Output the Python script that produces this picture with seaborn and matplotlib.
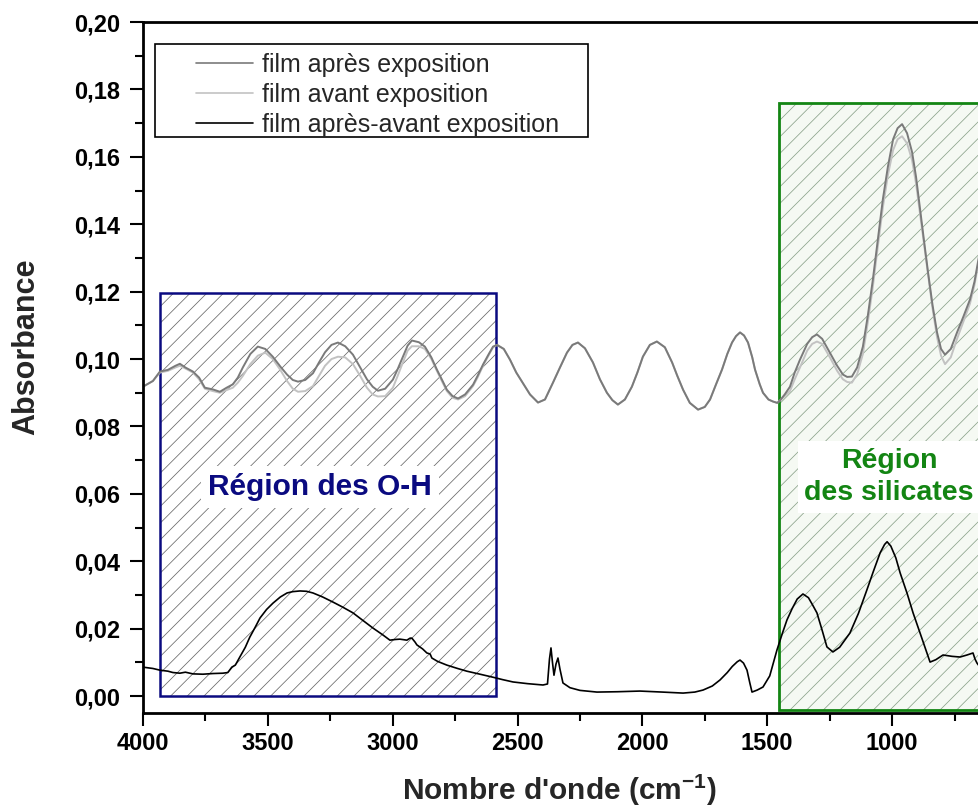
import numpy as np
import pandas as pd
import seaborn as sns
import matplotlib.pyplot as plt
from matplotlib.patches import Rectangle
from matplotlib.ticker import MultipleLocator, FuncFormatter

# Spectres IR
wn_film = [4000, 3960, 3932, 3900, 3870, 3852, 3830, 3800, 3775, 3752, 3720, 3692, 3665, 3640,
           3620, 3600, 3570, 3540, 3510, 3480, 3450, 3423, 3400, 3379, 3350, 3319, 3295, 3271,
           3245, 3219, 3190, 3159, 3130, 3103, 3080, 3059, 3030, 2999, 2980, 2959, 2940, 2923,
           2895, 2871, 2845, 2823, 2800, 2783, 2760, 2738, 2710, 2678, 2660, 2638, 2615, 2598,
           2582, 2555, 2530, 2505, 2478, 2450, 2418, 2390, 2358, 2330, 2302, 2280, 2258, 2230,
           2198, 2170, 2142, 2120, 2098, 2070, 2042, 2020, 1998, 1970, 1942, 1910, 1881, 1860,
           1837, 1810, 1777, 1750, 1729, 1705, 1681, 1660, 1641, 1625, 1609, 1593, 1577, 1560,
           1549, 1530, 1517, 1495, 1477, 1460, 1449, 1430, 1409, 1390, 1369, 1340, 1320, 1301,
           1280, 1249, 1220, 1197, 1180, 1161, 1140, 1117, 1097, 1077, 1057, 1037, 1017, 996,
           978, 960, 940, 920, 904, 888, 872, 856, 838, 820, 804, 788, 765, 740, 715, 688, 670, 652]

abs_apres = [0.0918, 0.0935, 0.0963, 0.0968, 0.0980, 0.0986, 0.0975, 0.0963, 0.0945, 0.0915,
             0.0910, 0.0903, 0.0915, 0.0925, 0.0945, 0.0975, 0.1015, 0.1037, 0.1030, 0.1007,
             0.0978, 0.0954, 0.0938, 0.0933, 0.0938, 0.0958, 0.0990, 0.1020, 0.1042, 0.1049,
             0.1038, 0.1013, 0.0975, 0.0940, 0.0918, 0.0906, 0.0912, 0.0939, 0.0970, 0.1007,
             0.1040, 0.1055, 0.1050, 0.1037, 0.1005, 0.0969, 0.0935, 0.0909, 0.0890, 0.0883,
             0.0895, 0.0924, 0.0950, 0.0984, 0.1015, 0.1037, 0.1042, 0.1030, 0.0998, 0.0960,
             0.0928, 0.0895, 0.0871, 0.0880, 0.0930, 0.0975, 0.1019, 0.1042, 0.1049, 0.1032,
             0.0990, 0.0940, 0.0900, 0.0878, 0.0865, 0.0880, 0.0918, 0.0960, 0.1007, 0.1042,
             0.1052, 0.1035, 0.0990, 0.0950, 0.0909, 0.0870, 0.0850, 0.0858, 0.0880, 0.0925,
             0.0969, 0.1015, 0.1049, 0.1068, 0.1079, 0.1070, 0.1049, 0.1005, 0.0969, 0.0925,
             0.0900, 0.0880, 0.0874, 0.0870, 0.0877, 0.0895, 0.0918, 0.0960, 0.0998, 0.1045,
             0.1065, 0.1073, 0.1060, 0.1019, 0.0980, 0.0954, 0.0947, 0.0948, 0.0975, 0.1037,
             0.1130, 0.1236, 0.1355, 0.1474, 0.1570, 0.1652, 0.1685, 0.1697, 0.1670, 0.1614,
             0.1540, 0.1444, 0.1350, 0.1257, 0.1160, 0.1079, 0.1030, 0.1013, 0.1030, 0.1079,
             0.1125, 0.1177, 0.1230, 0.1305]

abs_avant = [0.0918, 0.0935, 0.0960, 0.0965, 0.0975, 0.0980, 0.0972, 0.0960, 0.0940, 0.0912,
             0.0905, 0.0900, 0.0908, 0.0915, 0.0930, 0.0950, 0.0985, 0.1010, 0.1019, 0.1000,
             0.0968, 0.0935, 0.0912, 0.0903, 0.0905, 0.0920, 0.0950, 0.0980, 0.1000, 0.1007,
             0.1005, 0.0985, 0.0950, 0.0915, 0.0895, 0.0889, 0.0890, 0.0915, 0.0950, 0.0990,
             0.1025, 0.1038, 0.1038, 0.1030, 0.1000, 0.0965, 0.0930, 0.0905, 0.0885, 0.0880,
             0.0890, 0.0920, 0.0945, 0.0980, 0.1012, 0.1035, 0.1042, 0.1030, 0.0998, 0.0960,
             0.0928, 0.0895, 0.0871, 0.0880, 0.0930, 0.0975, 0.1019, 0.1042, 0.1049, 0.1032,
             0.0990, 0.0940, 0.0900, 0.0878, 0.0865, 0.0880, 0.0918, 0.0960, 0.1007, 0.1042,
             0.1052, 0.1035, 0.0990, 0.0950, 0.0909, 0.0870, 0.0850, 0.0858, 0.0880, 0.0925,
             0.0969, 0.1015, 0.1049, 0.1068, 0.1079, 0.1070, 0.1049, 0.1005, 0.0969, 0.0925,
             0.0900, 0.0880, 0.0874, 0.0870, 0.0877, 0.0890, 0.0905, 0.0940, 0.0975, 0.1025,
             0.1045, 0.1052, 0.1045, 0.1005, 0.0965, 0.0940, 0.0932, 0.0930, 0.0955, 0.1015,
             0.1110, 0.1215, 0.1335, 0.1450, 0.1545, 0.1620, 0.1652, 0.1661, 0.1640, 0.1590,
             0.1520, 0.1430, 0.1340, 0.1250, 0.1150, 0.1065, 0.1010, 0.0985, 0.1005, 0.1060,
             0.1110, 0.1165, 0.1220, 0.1295]

wn_diff = [4000, 3960, 3932, 3900, 3880, 3852, 3830, 3800, 3760, 3720, 3680, 3660, 3644, 3630,
           3612, 3590, 3572, 3550, 3531, 3505, 3479, 3450, 3423, 3400, 3371, 3345, 3319, 3280,
           3239, 3200, 3159, 3120, 3079, 3040, 3011, 2990, 2971, 2943, 2930, 2923, 2910, 2903,
           2880, 2863, 2850, 2843, 2820, 2783, 2740, 2703, 2650, 2598, 2560, 2518, 2460, 2398,
           2380, 2372, 2366, 2360, 2354, 2346, 2338, 2330, 2318, 2290, 2250, 2182, 2100, 2010,
           1920, 1837, 1790, 1757, 1720, 1689, 1660, 1640, 1620, 1609, 1595, 1581, 1570, 1561,
           1540, 1517, 1490, 1461, 1440, 1421, 1400, 1380, 1357, 1335, 1318, 1301, 1280, 1261,
           1237, 1210, 1169, 1135, 1101, 1075, 1048, 1030, 1020, 1005, 985, 968, 940, 916, 880,
           848, 825, 796, 760, 728, 700, 676, 668, 660, 652]

abs_diff = [0.0086, 0.0082, 0.0077, 0.0074, 0.0070, 0.0068, 0.0071, 0.0066, 0.0065, 0.0067,
            0.0068, 0.0070, 0.0086, 0.0092, 0.0116, 0.0145, 0.0175, 0.0205, 0.0232, 0.0257,
            0.0276, 0.0294, 0.0306, 0.0310, 0.0312, 0.0311, 0.0306, 0.0294, 0.0279, 0.0264,
            0.0247, 0.0225, 0.0202, 0.0182, 0.0166, 0.0168, 0.0169, 0.0166, 0.0172, 0.0172,
            0.0160, 0.0152, 0.0140, 0.0128, 0.0125, 0.0113, 0.0103, 0.0092, 0.0082, 0.0074,
            0.0065, 0.0056, 0.0049, 0.0042, 0.0037, 0.0033, 0.0036, 0.0110, 0.0143, 0.0100,
            0.0062, 0.0095, 0.0113, 0.0080, 0.0039, 0.0025, 0.0017, 0.0012, 0.0013, 0.0015,
            0.0012, 0.0009, 0.0012, 0.0018, 0.0030, 0.0048, 0.0070, 0.0088, 0.0102, 0.0107,
            0.0098, 0.0077, 0.0040, 0.0012, 0.0018, 0.0027, 0.0060, 0.0137, 0.0185, 0.0226,
            0.0260, 0.0288, 0.0303, 0.0292, 0.0270, 0.0247, 0.0195, 0.0146, 0.0131, 0.0145,
            0.0187, 0.0245, 0.0315, 0.0370, 0.0425, 0.0450, 0.0458, 0.0445, 0.0410, 0.0366,
            0.0305, 0.0247, 0.0170, 0.0101, 0.0108, 0.0122, 0.0118, 0.0116, 0.0122, 0.0128,
            0.0110, 0.0098, 0.0090]

labels = ["film après exposition", "film avant exposition", "film après-avant exposition"]
colors = ["#7a7a7a", "#c2c2c2", "#000000"]

# zones hachurées : (x gauche, x droite, y bas, y haut)
zone_oh = (3932, 2586, 0.0, 0.1195)
zone_si = (1453, 400, -0.004, 0.176)

sns.set_theme(style="ticks")
plt.rcParams["font.family"] = ["Liberation Sans", "DejaVu Sans"]
plt.rcParams["mathtext.fontset"] = "custom"
plt.rcParams["mathtext.rm"] = "Liberation Sans"
plt.rcParams["mathtext.bf"] = "Liberation Sans:bold"
plt.rcParams["hatch.linewidth"] = 0.55

fig = plt.figure(figsize=(9.79, 8.09), dpi=100)
ax = fig.add_axes([0.146, 0.1187, 0.854, 0.8541])

# boxes
x0, x1, y0, y1 = zone_oh
ax.add_patch(Rectangle((x1, y0), x0 - x1, y1 - y0, facecolor="white", edgecolor="#686868",
                       hatch="//", linewidth=0, zorder=0.5))
ax.add_patch(Rectangle((x1, y0), x0 - x1, y1 - y0, fill=False, edgecolor="#0a0a80",
                       linewidth=1.8, zorder=0.6))
x0, x1, y0, y1 = zone_si
ax.add_patch(Rectangle((x1, y0), x0 - x1, y1 - y0, facecolor="#f5f9f3", edgecolor="#8aa28a",
                       hatch="//", linewidth=0, zorder=0.5))
ax.add_patch(Rectangle((x1, y0), x0 - x1, y1 - y0, fill=False, edgecolor="#138513",
                       linewidth=2, zorder=0.6))

sns.lineplot(x=wn_film, y=abs_apres, ax=ax, color=colors[0], lw=1.4, sort=False,
             estimator=None, label=labels[0], zorder=2.2)
sns.lineplot(x=wn_film, y=abs_avant, ax=ax, color=colors[1], lw=1.4, sort=False,
             estimator=None, label=labels[1], zorder=2.1)
sns.lineplot(x=wn_diff, y=abs_diff, ax=ax, color=colors[2], lw=1.2, sort=False,
             estimator=None, label=labels[2], zorder=2.3)

ax.text(3291, 0.062, "Région des O-H", color="#0a0a80", fontsize=21.5, fontweight="bold",
        ha="center", va="center", zorder=3,
        bbox=dict(facecolor="white", edgecolor="none", pad=5))
ax.text(1012, 0.065, "Région\ndes silicates", color="#138513", fontsize=20.5,
        fontweight="bold", ha="center", va="center", linespacing=1.3, zorder=3,
        bbox=dict(facecolor="white", edgecolor="none", pad=5))

ax.set_xlim(4000, 652)
ax.set_ylim(-0.005, 0.20)
ax.xaxis.set_major_locator(MultipleLocator(500))
ax.xaxis.set_minor_locator(MultipleLocator(250))
ax.yaxis.set_major_locator(MultipleLocator(0.02))
ax.yaxis.set_minor_locator(MultipleLocator(0.01))
ax.yaxis.set_major_formatter(FuncFormatter(lambda v, p: f"{v:.2f}".replace(".", ",")))

ax.tick_params(which="major", length=9.5, width=1.5, labelsize=17, pad=4, color="black",
               labelcolor="black")
ax.tick_params(axis="y", which="major", pad=7)
ax.tick_params(which="minor", length=6, width=1.5, color="black")
ax.tick_params(bottom=True, left=True, which="both")
for lab in ax.get_xticklabels() + ax.get_yticklabels():
    lab.set_fontweight("bold")

for side in ["left", "bottom", "top"]:
    ax.spines[side].set_linewidth(2)
    ax.spines[side].set_color("black")
ax.spines["right"].set_visible(False)

ax.set_xlabel("Nombre d'onde (cm$^{\\mathbf{-1}}$)", fontsize=21.5, fontweight="bold",
              va="baseline")
ax.set_ylabel("Absorbance", fontsize=22, fontweight="bold")
ax.xaxis.set_label_coords(0.4976, -0.126)
ax.yaxis.set_label_coords(-0.122, 0.53)

leg = ax.legend(loc="upper left", bbox_to_anchor=(0.0634, 0.9555), frameon=False,
                fontsize=18, handlelength=2.3, handletextpad=0.35, labelspacing=0.24,
                borderpad=0, borderaxespad=0)
for line in leg.get_lines():
    line.set_linewidth(1.2)
ax.add_patch(Rectangle((0.0144, 0.8336), 0.5176, 0.1344, transform=ax.transAxes,
                       fill=False, edgecolor="black", linewidth=1.2, zorder=5))

fig.savefig("out.png", dpi=100)
